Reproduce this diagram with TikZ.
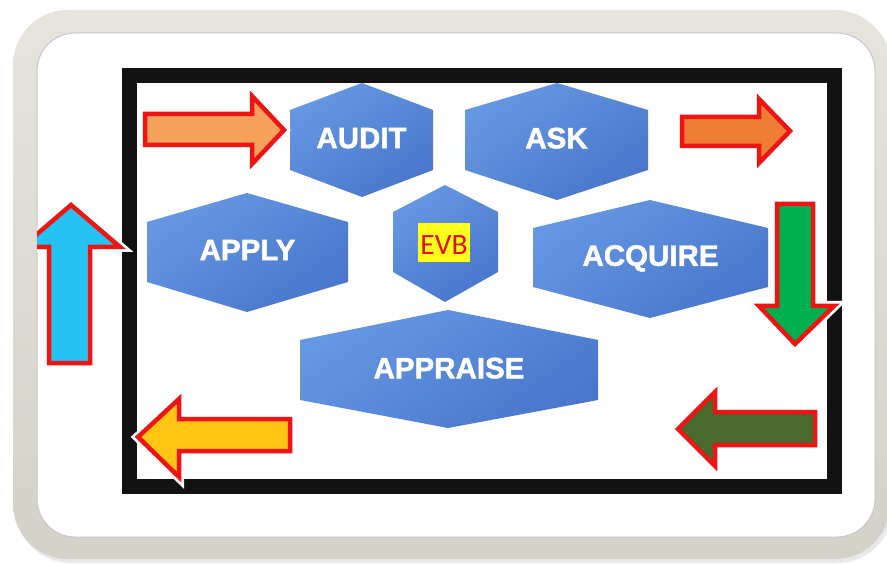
\documentclass[tikz,border=0pt]{standalone}
\usepackage{fontspec}
\setmainfont{Liberation Sans}
\newfontfamily\labelfont[FakeBold=1.6]{Liberation Sans}
\newfontfamily\evbfont{Carlito}
\definecolor{framelight}{HTML}{E6E4DD}
\definecolor{framedark}{HTML}{D3D1C8}
\definecolor{hexlight}{HTML}{6697E2}
\definecolor{hexdark}{HTML}{4877CC}
\definecolor{arrowred}{HTML}{EE1414}
\definecolor{peach}{HTML}{F6A15C}
\definecolor{tangerine}{HTML}{EE7E33}
\definecolor{leafgreen}{HTML}{00B050}
\definecolor{olivegreen}{HTML}{486A2C}
\definecolor{goldyellow}{HTML}{FFC512}
\definecolor{skyblue}{HTML}{25C3F2}
\definecolor{evbred}{HTML}{E01010}
\definecolor{evbyellow}{HTML}{FFFF1A}

% hexagon: name, left, right, top, upper shoulder, lower shoulder, bottom, apex x, label
\newcommand\hexcell[9]{%
  \shade[hexfill] (#2,#5) -- (#8,#4) -- (#3,#5) -- (#3,#6) -- (#8,#7) -- (#2,#6) -- cycle;
  \node[hexlabel] (#1) at ({(#2+#3)/2},{(#5+#6)/2-2}) {#9};}

% block arrow with white halo and red rim: fill colour, closed path
\newcommand\blockarrow[2]{%
  \draw[arrowhalo] #2;
  \draw[arrowrim, fill=#1] #2;}

\begin{document}
\begin{tikzpicture}[x=1pt,y=-1pt,
  hexfill/.style={top color=hexlight, bottom color=hexdark, shading angle=35},
  hexlabel/.style={text=white, font=\labelfont\fontsize{29.5}{31}\selectfont\bfseries,
    inner sep=0pt, text depth=0pt},
  arrowhalo/.style={draw=white, line width=10pt, line join=miter, miter limit=10},
  arrowrim/.style={draw=arrowred, line width=4.5pt, line join=miter, miter limit=10},
  evbbox/.style={fill=evbyellow, text=evbred, font=\evbfont\fontsize{29.5}{31}\selectfont,
    inner xsep=2.2pt, inner ysep=0pt, text height=32pt, text depth=7pt, anchor=base}]

\useasboundingbox (0,0) rectangle (887,564);
\fill[white] (0,0) rectangle (887,564);

% rounded picture frame
\fill[gray!18, rounded corners=56] (15,13) rectangle (893,563);
\shade[top color=framelight, bottom color=framedark, rounded corners=55]
  (13,10) rectangle (890,559);
\fill[white, rounded corners=38] (37,33) rectangle (875,537);
\draw[gray!45, line width=1pt, rounded corners=38] (37,33) rectangle (875,537);

% black board
\draw[black!93, line width=15.5pt] (129.5,75.5) rectangle (834.5,486.5);

% hexagons
\hexcell{audit}{290}{433}{83}{110}{170}{197}{362}{AUDIT}
\hexcell{ask}{465}{648}{83}{110}{170}{200}{557}{ASK}
\hexcell{apply}{147}{348}{193}{222}{282}{312}{247}{APPLY}
\hexcell{acquire}{533}{768}{200}{228}{287}{318}{650}{ACQUIRE}
\hexcell{appraise}{300}{598}{310}{340}{400}{428}{448}{APPRAISE}
\shade[hexfill] (393,212) -- (445,185) -- (498,212) -- (498,272) -- (445,302) -- (393,272) -- cycle;
\node[evbbox] (evb) at (444,255) {EVB};

% arrows
\blockarrow{peach}{(145,114) -- (252,114) -- (252,96) -- (284,130) -- (252,164) -- (252,145) -- (145,145) -- cycle}
\blockarrow{tangerine}{(682,117) -- (759,117) -- (759,99) -- (790,131) -- (759,163) -- (759,146) -- (682,146) -- cycle}
\blockarrow{leafgreen}{(777,204) -- (813,204) -- (813,306) -- (834,306) -- (795,344) -- (759,306) -- (777,306) -- cycle}
\blockarrow{olivegreen}{(815,412) -- (715,412) -- (715,392) -- (678,429) -- (715,466) -- (715,445) -- (815,445) -- cycle}
\blockarrow{goldyellow}{(290,419) -- (179,419) -- (179,399) -- (138,437) -- (179,477) -- (179,451) -- (290,451) -- cycle}
\begin{scope}
  \clip[rounded corners=38] (37,33) rectangle (875,537);
  \blockarrow{skyblue}{(49,363) -- (49,247) -- (22,247) -- (71,205) -- (120,247) -- (90,247) -- (90,363) -- cycle}
\end{scope}

\end{tikzpicture}
\end{document}
